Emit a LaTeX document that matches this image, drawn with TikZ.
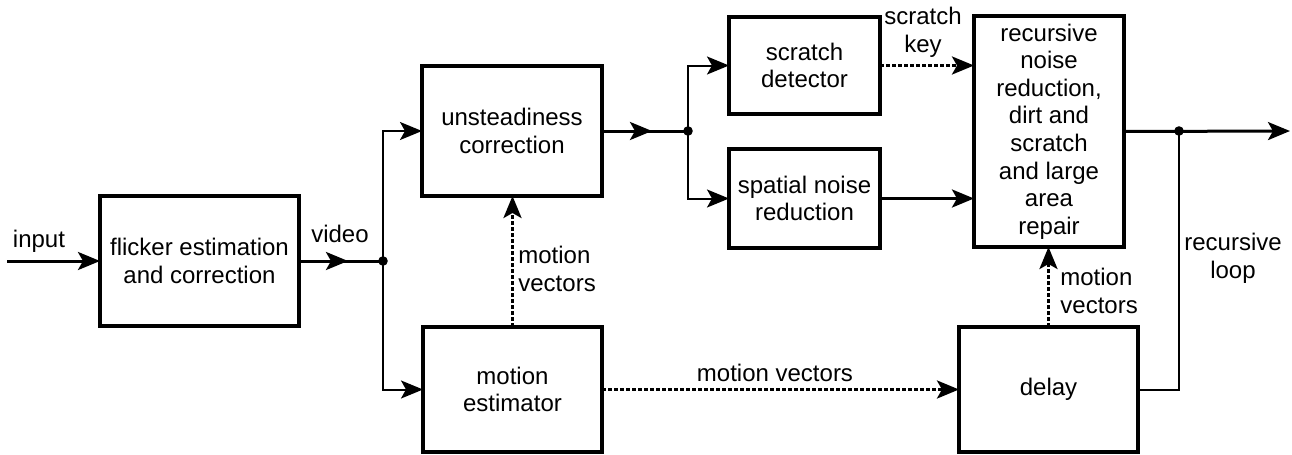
\documentclass[tikz,border=0pt]{standalone}
\usepackage{fontspec}
\setmainfont{Liberation Sans}
\usetikzlibrary{arrows.meta}
\begin{document}
\begin{tikzpicture}[x=0.5pt,y=-0.5pt,
  blk/.style={draw, line width=1.75pt, inner sep=0pt, outer sep=0pt, align=center, font=\fontsize{12}{13.8}\selectfont},
  lbl/.style={inner sep=0pt, font=\fontsize{12}{13.8}\selectfont},
  mainln/.style={line width=1.5pt},
  thinln/.style={line width=1pt},
  arr/.style={-{Stealth[length=11pt,width=9pt,inset=2.5pt]}},
  dsh/.style={line width=1.5pt, dash pattern=on 2pt off 1pt},
]
\useasboundingbox (0,0) rectangle (1292,455);

% blocks
\node[blk, minimum width=99.5pt, minimum height=65pt] (flk) at (199.5,261) {flicker estimation\\and correction};
\node[blk, minimum width=90pt, minimum height=65pt] (uns) at (512,131) {unsteadiness\\correction};
\node[blk, minimum width=75.5pt, minimum height=48.5pt] (scr) at (804.5,65.5) {scratch\\detector};
\node[blk, minimum width=75.5pt, minimum height=49.5pt] (spa) at (804.5,198.5) {spatial noise\\reduction};
\node[blk, minimum width=75pt, minimum height=115.5pt] (rec) at (1049,131.5) {recursive\\noise\\reduction,\\dirt and\\scratch\\and large\\area\\repair};
\node[blk, minimum width=89.5pt, minimum height=62.5pt] (mot) at (512.5,389.5) {motion\\estimator};
\node[blk, minimum width=89.5pt, minimum height=62.5pt] (del) at (1048.5,389.5) {delay};

% coordinates
\coordinate (in) at (7,261);
\coordinate (j1) at (383,261);
\coordinate (vtip) at (348,261);
\coordinate (j2) at (688,131);
\coordinate (utip) at (652,131);
\coordinate (j3) at (1179,131);
\coordinate (out) at (1290,131);

% connectors
\draw[mainln, arr] (in) -- (flk.west);
\draw[mainln] (flk.east) -- (j1);
\draw[mainln, arr] (flk.east) -- (vtip);
\draw[thinln, arr] (j1) |- (uns.west);
\draw[thinln, arr] (j1) |- (mot.west);
\draw[mainln] (uns.east) -- (j2);
\draw[mainln, arr] (uns.east) -- (utip);
\draw[thinln, arr] (j2) |- (scr.west);
\draw[thinln, arr] (j2) |- (spa.west);
\draw[dsh, arr] (scr.east) -- (scr.east -| rec.west);
\draw[mainln, arr] (spa.east) -- (spa.east -| rec.west);
\draw[mainln, arr] (rec.east) -- (out);
\draw[thinln] (del.east) -| (j3);
\draw[dsh, arr] (mot.north) -- (mot.north |- uns.south);
\draw[dsh, arr] (mot.east) -- (del.west);
\draw[dsh, arr] (del.north) -- (del.north |- rec.south);

% junction dots
\fill (j1) circle (2.4pt);
\fill (j2) circle (2.4pt);
\fill (j3) circle (2.4pt);

% labels
\node[lbl, anchor=base] (linput) at (39,247) {input};
\node[lbl, anchor=base] (lvideo) at (340,242) {video};
\node[lbl, anchor=west, align=left] (lmv1) at (518,269) {motion\\vectors};
\node[lbl, anchor=west, align=left] (lmv2) at (1060,291) {motion\\vectors};
\node[lbl] (lmv3) at (775,373) {motion vectors};
\node[lbl, align=center] (lsk) at (923,32) {scratch\\key};
\node[lbl, align=center] (lrl) at (1233,258) {recursive\\loop};
\end{tikzpicture}
\end{document}
